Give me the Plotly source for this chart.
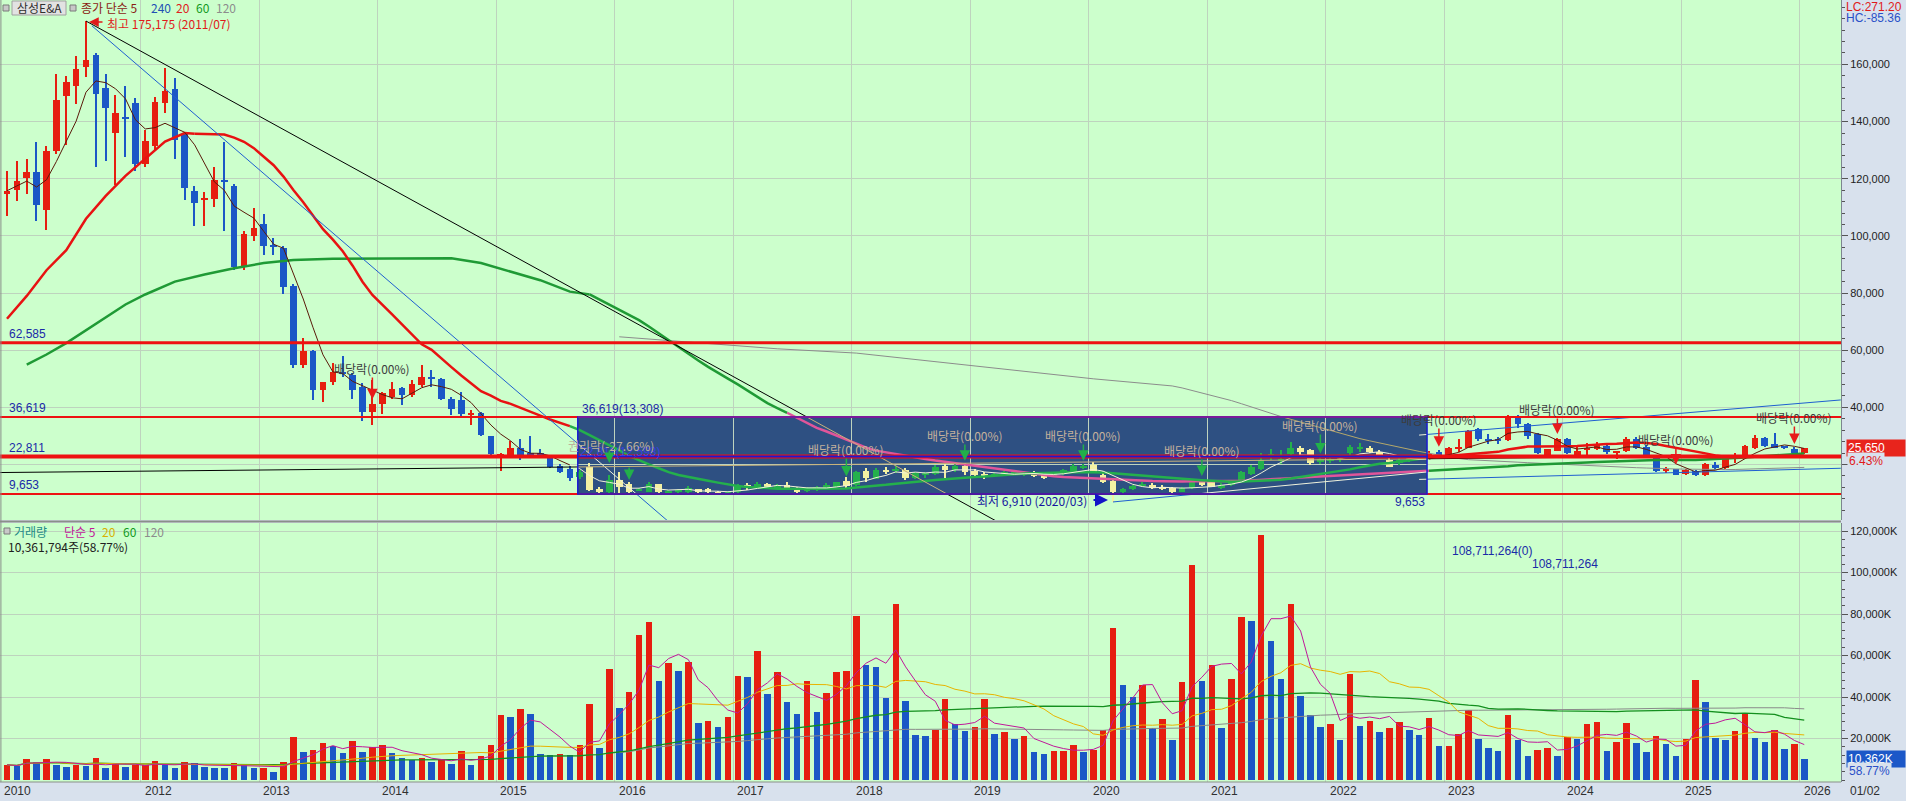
import numpy as np
import pandas as pd
import plotly.graph_objects as go

# ---------------- data (monthly, 2010-11 .. 2026-01) ----------------
months = pd.period_range("2010-11", "2026-01", freq="M")

opens = [114600,116000,120100,122400,109100,129600,149100,152300,159100,163200,
         151800,135900,141700,146500,125100,131600,146500,151500,135700,115800,
         112800,112800,119600,117500,89500,100000,104100,96800,95900,82600,
         54900,59900,46100,49000,52300,51400,47200,38400,41100,43700,
         46900,44300,47800,50500,49900,43100,42500,37600,38100,29900,
         22600,23000,25900,24000,24200,22200,19500,18300,15500,19200,
         11400,10300,14600,13100,10900,10500,13100,10300,10400,10300,
         11300,11300,10300,9800,10300,12500,12000,13100,11900,12900,
         11900,10700,11000,11800,12100,14100,12800,17700,15000,17800,
         17700,18100,15400,16600,16700,19600,18100,19600,17700,16700,
         16100,16300,16900,16300,17300,16300,15800,16700,17800,19000,
         20000,16300,14200,10500,11400,12400,12800,12300,11700,10500,
         11700,14200,13800,11900,12800,13800,16600,18500,23300,21600,
         23600,25700,25000,20900,21600,21700,24000,25900,25900,24300,
         21600,20400,21600,22300,22600,24500,22900,25700,25900,32300,
         29000,28700,28600,36500,34200,30800,22800,24900,28900,22500,
         25300,25600,26600,24200,24600,29000,26200,22200,17900,18300,
         16700,17700,16300,20000,18800,22600,23000,25900,29400,27200,
         26100,25400,24100]
highs = [122800,126300,126900,132700,131600,156500,156100,162800,175175,164100,
         156500,149400,152600,148200,137200,148500,158800,155300,136200,117500,
         115200,124000,132700,118300,101700,109900,107600,99100,96500,83200,
         64300,60000,49000,55500,57900,52000,48400,49600,45500,49000,
         47200,49600,54900,53100,50400,43700,45500,39000,38400,30100,
         24200,28400,28900,30100,25300,22700,20100,19500,18000,20700,
         12000,16300,17500,13950,11800,13800,13200,11200,11500,12600,
         11600,11700,10600,10800,13300,13600,13800,13500,13300,13800,
         12200,12200,12600,13400,14000,15500,17700,18700,18900,19300,
         19500,18700,17500,17300,19900,20200,20100,20400,18300,17300,
         17100,17900,17800,17800,17700,16800,17300,18500,20100,20300,
         21000,17700,14600,11800,12900,14000,13400,12700,12000,12300,
         14300,14800,14300,13500,14200,17900,19800,23900,25300,25100,
         28000,26500,25600,22800,23300,23000,26900,27400,26400,25000,
         22300,22300,23000,23300,24700,25000,26200,29100,32000,32700,
         30600,29800,37400,37400,34700,31000,25600,29300,29300,26500,
         27600,28000,26900,24900,29600,29600,26800,22600,19100,18600,
         18400,18100,20600,20900,22200,24200,26900,30300,29700,31000,
         26600,26000,25900]
lows = [107000,112300,114600,105200,102000,128500,131900,146200,155600,124000,
        126300,117800,127700,122800,124000,130000,143000,126900,112500,103400,
        103500,110000,101700,88000,88000,98200,93300,93300,79700,53700,
        53700,42500,41900,47800,50800,43100,35400,33700,37800,43100,
        40700,43700,47200,47200,42500,37200,36800,33700,29900,23400,
        17700,22700,21500,23000,23000,18900,17100,14200,15000,10900,
        10000,10000,10000,9400,10600,10300,9400,9800,10200,10100,
        10000,9800,9200,9300,10000,11100,11500,11800,11500,11100,
        10000,10400,10700,11500,11600,11900,12600,13800,14800,16800,
        16900,14600,14800,15200,16300,15400,17500,16500,16000,14900,
        15600,16000,16300,16000,15600,15000,15500,16400,17500,18500,
        16900,13500,6910,9900,11000,12100,11300,11200,10200,10300,
        11500,12500,12000,11600,12500,13500,16300,18000,21600,20300,
        23100,23500,19900,20300,20400,21000,23500,24300,23900,22700,
        19000,19900,21000,21700,22300,22500,22500,24500,25700,28300,
        27200,27200,28300,32800,29100,23700,22500,24600,23800,22300,
        22300,25000,23700,22100,24400,25300,22600,17300,17200,16300,
        16300,16100,16100,18200,18600,20700,22800,25300,26300,25700,
        25400,23800,23800]
closes = [115800,119300,122400,110900,129800,147700,153800,158500,161600,149500,
          144700,143000,141000,125100,133300,147000,150600,133600,116700,111400,
          113200,119600,118900,89100,100600,102900,96500,96300,82000,54900,
          59900,46100,49000,52300,52000,46100,38400,41100,44900,46300,
          44300,48100,50800,50000,43100,39600,37600,38000,30400,23600,
          23600,25800,23000,23800,23400,19200,17500,15400,17300,11100,
          10300,14600,12250,10300,11200,13100,10300,10500,11100,11700,
          10300,10300,9900,10200,12800,12300,13100,12300,13000,11900,
          10300,11700,12300,12800,13800,12500,17300,15400,18100,17700,
          18600,15400,16900,16700,19300,18100,19600,17300,16500,15500,
          16700,17300,17000,17300,16100,15400,16900,18100,19600,19600,
          17300,13800,10500,11400,12400,13300,11700,11400,10500,11900,
          13800,12800,12300,13000,13800,17500,19300,21600,23400,21700,
          25700,24500,20400,22100,21700,22500,26300,26000,24300,23300,
          19300,21600,22300,22600,23800,23000,25900,25900,31700,29100,
          28300,28600,36800,34200,30000,24000,25300,28900,24000,24900,
          25700,27300,24300,24500,29000,25800,23000,17900,18200,16500,
          18100,16400,20200,18800,21900,22900,26500,29400,26500,25900,
          26000,24100,25650]
volumes_k = [7300,6700,10200,8600,10200,7300,6200,7000,6900,10600,
             6000,7800,6500,7200,7400,9100,7000,5900,8600,8100,
             6500,6000,5800,8300,7800,5800,6000,3700,8600,20500,
             13500,14600,17600,16600,13200,19000,13700,15900,17100,13200,
             10700,9400,10700,8500,10200,7500,14100,7300,11700,17100,
             31200,30200,34100,31700,12700,12200,12700,12200,17100,36600,
             15600,53700,34600,42600,69900,76100,47500,56600,52700,57100,
             27300,28500,25400,30200,50200,49600,62400,41500,52200,37600,
             31700,47800,32700,42000,52200,52700,79000,55600,54600,39500,
             84900,38000,21600,21400,23900,39000,26800,23400,25400,39000,
             22300,22900,20000,21000,13700,12700,14100,14200,17100,13700,
             14600,23900,73200,45900,40000,46000,24900,29300,19500,47300,
             103700,47800,55600,24900,48800,78500,76600,118000,66800,48800,
             84900,40500,31100,25400,26800,19500,51200,25900,28300,22900,
             24900,27800,24200,21800,30100,16400,16600,22300,33500,19800,
             15400,14000,31500,19300,11500,14500,15400,11500,20800,19800,
             27200,28100,14000,18400,27600,17900,13500,21300,17400,11500,
             19800,48100,37400,20300,19300,23700,32500,20300,18400,24200,
             15000,17400,10362]

# moving-average segments that depend on history before the first visible bar
ma20_early_idx = [0, 2, 4, 6, 8, 10, 12, 14, 16, 18]
ma20_early_val = [71000, 79000, 88000, 95000, 106000, 114000, 121000, 127000, 133000, 136000]
ma60_early_idx = [2, 4, 6, 8, 10, 12, 14, 17, 20, 23, 26, 29, 33, 37, 41, 45, 48, 51, 54, 57]
ma60_early_val = [55000, 58500, 62500, 67000, 71500, 76000, 79500, 84000, 86500, 88700,
                  90500, 91600, 92000, 92100, 92300, 92200, 90500, 87500, 84500, 80500]
ma120_early_idx = [62, 70, 78, 86, 94, 102, 110, 118]
ma120_early_val = [64700, 62500, 60500, 59000, 56000, 53000, 50000, 47500]

# horizontal support / resistance levels
levels = [62585, 36619, 22811, 9653]
level_labels = ["62,585", "36,619", "22,811", "9,653"]

# box (period index range, price range)
box_idx = [57.8, 143.8]
box_prices = [9653, 22811, 36619]

# trend lines: start idx, start price, end idx, end price, colour
trend_x0 = [8.0, 8.6, -0.7, 112.0, 143.0, 143.0]
trend_y0 = [175175, 173500, 17200, 6910, 30300, 14800]
trend_x1 = [100.3, 67.0, 164.0, 143.8, 185.7, 185.7]
trend_y1 = [0, 0, 22700, 17400, 42600, 18700]
trend_col = ["#000000", "#1f5fd0", "#000000", "#1f5fd0", "#1f5fd0", "#1f5fd0"]

# ex-dividend / ex-rights events
event_idx = [37, 85, 97, 109, 121, 133, 145, 157, 169, 181]
event_text = ["배당락(0.00%)"] * 10
year_ticks = list(range(2012, 2027))

# ---------------- geometry helpers ----------------
PW, PH = 1841, 782
XR = (-0.709, 185.72)
PR = (595, 182540)          # price axis range, panel pixels 0..520
VR = (-964, 123855)         # volume axis range, panel pixels 523..782


def price_at(ypx):
    return PR[1] - ypx * (PR[1] - PR[0]) / 520.0


def price_px(p):
    return 520.0 * (PR[1] - p) / (PR[1] - PR[0])


def idx_px(i):
    return PW * (i - XR[0]) / (XR[1] - XR[0])


def paper_x(xpx):
    return xpx / PW


def paper_y(ypx):
    return (PH - ypx) / PH


RED = "#e61e10"
BLUE = "#1b57c6"
GREEN_IN = "#24b04c"
YELLOW_IN = "#f3f1a3"
BOX_FILL = "#2e5082"
AXIS_BG = "#d8e1ed"

n = len(closes)
idx = list(range(n))


def in_box_idx(i):
    return 58 <= i <= 143


# ---------------- figure ----------------
fig = go.Figure()

o = np.array(opens, float); c = np.array(closes, float)
h = np.array(highs, float); l = np.array(lows, float)
up = c >= o
cols = []
for i in idx:
    if in_box_idx(i):
        cols.append(GREEN_IN if up[i] else YELLOW_IN)
    else:
        cols.append(RED if up[i] else BLUE)
min_body = 450.0
body_h = np.maximum(np.abs(c - o), min_body)
body_base = np.minimum(o, c) - np.where(np.abs(c - o) < min_body, (min_body - np.abs(c - o)) / 2, 0)

fig.add_trace(go.Bar(x=idx, y=(h - l).tolist(), base=l.tolist(), width=0.13,
                     marker=dict(color=cols, line=dict(width=0)), hoverinfo="skip",
                     xaxis="x", yaxis="y", showlegend=False))
fig.add_trace(go.Bar(x=idx, y=body_h.tolist(), base=body_base.tolist(), width=0.68,
                     marker=dict(color=cols, line=dict(width=0)), hoverinfo="skip",
                     xaxis="x", yaxis="y", showlegend=False))

cs = pd.Series(closes, dtype=float)
ma5 = cs.rolling(5, min_periods=1).mean()
ma20 = cs.rolling(20).mean()
ma60 = cs.rolling(60).mean()
ma120 = cs.rolling(120).mean()


def split_inout(xs, ys):
    k_n = len(xs)
    flags = [(v is not None) and (box_idx[0] <= x <= box_idx[1]) and (box_prices[0] <= v <= box_prices[2])
             for x, v in zip(xs, ys)]
    out = [None] * k_n
    inn = [None] * k_n
    for k in range(k_n):
        if ys[k] is None:
            continue
        if flags[k]:
            inn[k] = ys[k]
        else:
            out[k] = ys[k]
    for k in range(k_n - 1):
        if ys[k] is None or ys[k + 1] is None:
            continue
        if flags[k] != flags[k + 1]:
            inn[k] = ys[k]
            inn[k + 1] = ys[k + 1]
    return out, inn


def add_line(xs, ys, color, width, in_color):
    out, inn = split_inout(xs, ys)
    fig.add_trace(go.Scatter(x=xs, y=out, mode="lines", line=dict(color=color, width=width),
                             hoverinfo="skip", showlegend=False, xaxis="x", yaxis="y"))
    fig.add_trace(go.Scatter(x=xs, y=inn, mode="lines", line=dict(color=in_color, width=width),
                             hoverinfo="skip", showlegend=False, xaxis="x", yaxis="y"))


def nn(series):
    return [None if pd.isna(v) else float(v) for v in series]


fig.add_trace(go.Scatter(x=ma120_early_idx + [119], y=ma120_early_val + [float(ma120[119])], mode="lines",
                         line=dict(color="#8c8c8c", width=1), hoverinfo="skip", showlegend=False,
                         xaxis="x", yaxis="y"))
add_line(idx, nn(ma120), "#8c8c8c", 1, "#b4a86a")
fig.add_trace(go.Scatter(x=ma60_early_idx + [59], y=ma60_early_val + [float(ma60[59])], mode="lines",
                         line=dict(color="#1f9a35", width=2.5), hoverinfo="skip", showlegend=False,
                         xaxis="x", yaxis="y"))
add_line(idx, nn(ma60), "#1f9a35", 2.5, "#e0559a")
fig.add_trace(go.Scatter(x=ma20_early_idx + [19], y=ma20_early_val + [float(ma20[19])], mode="lines",
                         line=dict(color="#e81212", width=2.5), hoverinfo="skip", showlegend=False,
                         xaxis="x", yaxis="y"))
add_line(idx, nn(ma20), "#e81212", 2.5, GREEN_IN)
add_line(idx, nn(ma5), "#5a1a0a", 1, "#f2f2d8")


def clip_param(x0, y0, x1, y1):
    t0, t1 = 0.0, 1.0
    dx, dy = x1 - x0, y1 - y0
    for p, q in ((-dx, x0 - box_idx[0]), (dx, box_idx[1] - x0),
                 (-dy, y0 - box_prices[0]), (dy, box_prices[2] - y0)):
        if p == 0:
            if q < 0:
                return None
        else:
            r = q / p
            if p < 0:
                t0 = max(t0, r)
            else:
                t1 = min(t1, r)
    if t0 > t1:
        return None
    return t0, t1


in_colour = {"#000000": "#c9b27a", "#1f5fd0": "#f0f2dc"}
for x0, y0, x1, y1, col in zip(trend_x0, trend_y0, trend_x1, trend_y1, trend_col):
    seg = clip_param(x0, y0, x1, y1)

    def pts(t, x0=x0, y0=y0, x1=x1, y1=y1):
        return x0 + (x1 - x0) * t, y0 + (y1 - y0) * t

    if seg is None:
        pieces = [((0, 1), col)]
    else:
        pieces = [((0, seg[0]), col), ((seg[0], seg[1]), in_colour[col]), ((seg[1], 1), col)]
    for (ta, tb), cc in pieces:
        if tb - ta <= 1e-6:
            continue
        a, b = pts(ta), pts(tb)
        fig.add_trace(go.Scatter(x=[a[0], b[0]], y=[a[1], b[1]], mode="lines", line=dict(color=cc, width=1),
                                 hoverinfo="skip", showlegend=False, xaxis="x", yaxis="y"))

# ---------------- volume ----------------
vs = pd.Series(volumes_k, dtype=float)
vcols = [RED] + [RED if volumes_k[k] >= volumes_k[k - 1] else BLUE for k in range(1, n)]
fig.add_trace(go.Bar(x=idx, y=volumes_k, width=0.66, marker=dict(color=vcols, line=dict(width=0)),
                     hoverinfo="skip", showlegend=False, xaxis="x2", yaxis="y2"))
for win, mp, colr, wd in ((120, 63, "#8a8a8a", 1), (60, 1, "#138f1e", 1.3), (20, 1, "#e8b400", 1),
                          (5, 1, "#c0189a", 1)):
    fig.add_trace(go.Scatter(x=idx, y=nn(vs.rolling(win, min_periods=mp).mean()), mode="lines",
                             line=dict(color=colr, width=wd), hoverinfo="skip", showlegend=False,
                             xaxis="x2", yaxis="y2"))

# ---------------- shapes ----------------
shapes = []
shapes.append(dict(type="rect", xref="x", yref="y", x0=box_idx[0], x1=box_idx[1], y0=box_prices[0],
                   y1=box_prices[2], fillcolor=BOX_FILL, line=dict(width=0), layer="below"))
for lv, wd in zip(levels, [3, 2, 4, 2]):
    shapes.append(dict(type="line", xref="paper", yref="y", x0=0, x1=1, y0=lv, y1=lv,
                       line=dict(color="#ee1111", width=wd), layer="above"))
for ylo, yhi in ((box_prices[0], box_prices[1]), (box_prices[1], box_prices[2])):
    shapes.append(dict(type="rect", xref="x", yref="y", x0=box_idx[0], x1=box_idx[1], y0=ylo, y1=yhi,
                       fillcolor="rgba(0,0,0,0)", line=dict(color="#1a1ad2", width=1.5), layer="above"))
shapes.append(dict(type="line", xref="x", yref="y", x0=box_idx[0], x1=box_idx[1], y0=box_prices[2],
                   y1=box_prices[2], line=dict(color="#7a1a9a", width=2), layer="above"))
shapes.append(dict(type="line", xref="paper", yref="paper", x0=0, x1=1, y0=paper_y(521.5), y1=paper_y(521.5),
                   line=dict(color="#8a8f8a", width=2)))
shapes.append(dict(type="line", xref="paper", yref="paper", x0=0, x1=1, y0=paper_y(782), y1=paper_y(782),
                   line=dict(color="#8a8f8a", width=1)))
shapes.append(dict(type="line", xref="paper", yref="paper", x0=0.0005, x1=0.0005, y0=0, y1=1,
                   line=dict(color="#8a8f8a", width=1)))
for xp, yp in ((3, 8), (70, 8), (4, 531)):
    shapes.append(dict(type="rect", xref="paper", yref="paper", x0=paper_x(xp), x1=paper_x(xp + 6),
                       y0=paper_y(yp + 3), y1=paper_y(yp - 3), fillcolor="#c8c8c8",
                       line=dict(color="#7a7a7a", width=1)))
shapes.append(dict(type="rect", xref="paper", yref="paper", x0=paper_x(12), x1=paper_x(66),
                   y0=paper_y(15), y1=paper_y(1), fillcolor="#e2e2e2", line=dict(color="#a0a0a0", width=1)))

# ---------------- annotations ----------------
ann = []
KR = "Noto Sans CJK KR"
NUM = "Liberation Sans"


def txt(xpx, ypx, text, color, size=12, xanchor="left", family=KR, **kw):
    ann.append(dict(xref="paper", yref="paper", x=paper_x(xpx), y=paper_y(ypx), text=text, showarrow=False,
                    xanchor=xanchor, yanchor="middle", font=dict(family=family, size=size, color=color), **kw))


txt(15, 8, "삼성E&A", "#303030", 12)
txt(79, 8, "종가 단순 5", "#8a1c14", 12)
txt(149, 8, "240", "#2250b4", 12)
txt(174, 8, "20", "#e02020", 12)
txt(194, 8, "60", "#129a22", 12)
txt(214, 8, "120", "#8c8c8c", 12)
txt(12, 531, "거래량", "#1e8a86", 12)
txt(62, 531, "단순 5", "#c0189a", 12)
txt(100, 531, "20", "#d8b000", 12)
txt(121, 531, "60", "#129a22", 12)
txt(142, 531, "120", "#8c8c8c", 12)
txt(6, 546, "10,361,794주(58.77%)", "#202020", 12)

txt(105, 24, "최고 175,175 (2011/07)", "#e01a1a", 12)
ann.append(dict(xref="paper", yref="paper", x=paper_x(89), y=paper_y(22), ax=15, ay=0, text="",
                showarrow=True, arrowhead=2, arrowsize=1.3, arrowwidth=1.5, arrowcolor="#e01a1a"))
txt(1089, 500, "최저 6,910 (2020/03)", "#1414a0", 12, xanchor="right")
ann.append(dict(xref="paper", yref="paper", x=paper_x(1108), y=paper_y(500), ax=-16, ay=0, text="",
                showarrow=True, arrowhead=2, arrowsize=1.3, arrowwidth=2, arrowcolor="#1414c8"))

for lv, lab in zip(levels, level_labels):
    txt(7, price_px(lv) - 9, lab, "#1a2aa8", 12, family=NUM)
txt(580, 409, "36,619(13,308)", "#1a2aa8", 12, family=NUM)
txt(578, 452, "22,811(12,598)", "#3a40e0", 12, family=NUM)
txt(1427, 502, "9,653", "#1a2aa8", 12, xanchor="right", family=NUM)
txt(566, 446, "권리락(-27.66%)", "#bfb29c", 12)

text_y = {37: 368, 85: 449, 97: 435, 109: 435, 121: 450, 133: 425, 145: 419, 157: 409, 169: 439, 181: 417}
for ei, et in zip(event_idx, event_text):
    inside = box_idx[0] <= ei <= box_idx[1]
    tcol = "#c4b09c" if inside else "#3c3c3c"
    acol = "#22b04a" if inside else "#e81a1a"
    ty = text_y[ei]
    tip = price_px(max(opens[ei], closes[ei])) - 5
    ann.append(dict(xref="x", yref="y", x=ei, y=price_at(ty), text=et, showarrow=False, xanchor="center",
                    yanchor="middle", font=dict(family=KR, size=12, color=tcol)))
    ann.append(dict(xref="x", yref="y", x=ei, y=price_at(tip), axref="x", ayref="y", ax=ei,
                    ay=price_at(ty + 8), text="", showarrow=True, arrowhead=2, arrowsize=1.4,
                    arrowwidth=1.5, arrowcolor=acol))
for ei, tip_px in ((61, 463), (63, 480)):
    ann.append(dict(xref="x", yref="y", x=ei, y=price_at(tip_px), axref="x", ayref="y", ax=ei,
                    ay=price_at(tip_px - 14), text="", showarrow=True, arrowhead=2, arrowsize=1.4,
                    arrowwidth=1.5, arrowcolor="#22b04a"))

txt(1450, 551, "108,711,264(0)", "#1a2aa8", 12, family=NUM)
txt(1530, 564, "108,711,264", "#1a2aa8", 12, family=NUM)

txt(1844, 7, "LC:271.20", "#e01a1a", 12, family=NUM)
txt(1844, 18, "HC:-85.36", "#2a50c8", 12, family=NUM)
ann.append(dict(xref="paper", yref="y", x=paper_x(1846), y=closes[-1], text="25,650", showarrow=False,
                xanchor="left", yanchor="middle", bgcolor="#e8241c", width=56, align="left", borderpad=1,
                font=dict(family=NUM, size=12, color="#ffffff")))
txt(1847, 461, "6.43%", "#e01a1a", 12, family=NUM, bgcolor=AXIS_BG)
ann.append(dict(xref="paper", yref="y2", x=paper_x(1846), y=volumes_k[-1], text="10,362K", showarrow=False,
                xanchor="left", yanchor="middle", bgcolor="#1c58c8", width=56, align="left", borderpad=1,
                font=dict(family=NUM, size=12, color="#ffffff")))
txt(1847, 771, "58.77%", "#2a50c8", 12, family=NUM, bgcolor=AXIS_BG)
txt(1848, 791, "01/02", "#303030", 12, family=NUM)

jan_idx = [k for k, m in enumerate(months) if m.month == 1 and m.year in year_ticks]
tickvals = [-0.7] + [k - 0.45 for k in jan_idx]
ticktext = ["2010"] + [str(months[k].year) for k in jan_idx]
for tv, tt in zip(tickvals, ticktext):
    txt(idx_px(tv) + 2, 791, tt, "#303030", 12, family=NUM)

GRID = "#bed3be"
fig.update_layout(
    width=1906, height=801,
    margin=dict(l=0, r=65, t=0, b=19),
    paper_bgcolor=AXIS_BG, plot_bgcolor="#ccffcc",
    barmode="overlay", bargap=0, showlegend=False,
    font=dict(family=NUM, size=11, color="#222222"),
    xaxis=dict(domain=[0, 1], range=list(XR), anchor="y", tickvals=tickvals, showticklabels=False,
               showgrid=True, gridcolor=GRID, gridwidth=1, zeroline=False, ticks="", fixedrange=True),
    xaxis2=dict(domain=[0, 1], range=list(XR), anchor="y2", matches="x", tickvals=tickvals,
                showticklabels=False, showgrid=True, gridcolor=GRID, gridwidth=1, zeroline=False, ticks=""),
    yaxis=dict(domain=[1 - 520 / 782, 1], range=list(PR), side="right", anchor="x",
               tickvals=list(range(20000, 160001, 20000)), tickformat=",d", showgrid=True, gridcolor=GRID,
               zeroline=False, ticks="outside", ticklen=6, tickcolor="#555555", showline=True,
               linecolor="#7d8590", linewidth=1, tickfont=dict(family=NUM, size=11, color="#222222"),
               minor=dict(dtick=4000, tick0=0, ticks="outside", ticklen=3, tickcolor="#555555", showgrid=False)),
    yaxis2=dict(domain=[0, 1 - 523 / 782], range=list(VR), side="right", anchor="x2",
                tickvals=list(range(20000, 120001, 20000)),
                ticktext=[f"{v:,}K" for v in range(20000, 120001, 20000)], showgrid=True, gridcolor=GRID,
                zeroline=False, ticks="outside", ticklen=6, tickcolor="#555555", showline=True,
                linecolor="#7d8590", linewidth=1, tickfont=dict(family=NUM, size=11, color="#222222"),
                minor=dict(dtick=4000, tick0=0, ticks="outside", ticklen=3, tickcolor="#555555", showgrid=False)),
    shapes=shapes, annotations=ann,
)

fig.write_html("out.html", config={"displayModeBar": False},
               post_script="document.body.style.margin='0px';document.body.style.overflow='hidden';"
                           "document.documentElement.style.overflow='hidden';")
